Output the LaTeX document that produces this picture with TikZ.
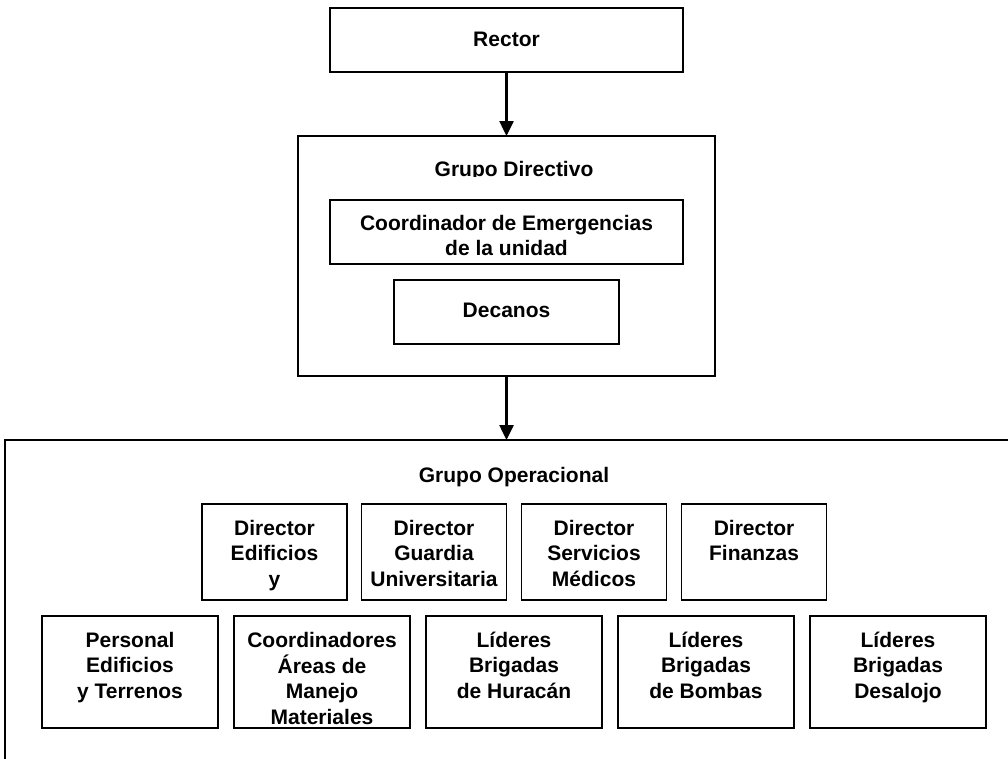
\documentclass[tikz,border=0pt]{standalone}
\usepackage{fontspec}
\setmainfont{Liberation Sans}
\usetikzlibrary{arrows.meta}
\newcommand\mlines[1]{\begin{tabular}[t]{@{}c@{}}#1\end{tabular}}
\begin{document}
\begin{tikzpicture}[x=1pt,y=-1pt,
  box/.style n args={2}{draw=black, line width=1.8pt, inner sep=0pt, outer sep=0pt, minimum width=#1, minimum height=#2},
  lbl/.style={font=\fontsize{21}{25.5}\selectfont\bfseries, inner sep=0pt, outer sep=0pt, anchor=base},
  arr/.style={line width=2.5pt, -{Triangle[width=14pt,length=15pt]}}]
\useasboundingbox (0,0) rectangle (1008,758);
\clip (0,0) rectangle (1008,758);

% top level
\node[box={353pt}{64pt}] (rector) at (506.5,40) {};
\node[lbl] (trector) at (506.5,46) {Rector};

% Grupo Directivo
\node[box={417pt}{240pt}] (gd) at (506.5,256) {};
\begin{scope}
  \clip (300,140) rectangle (713,176.8);
  \node[lbl] (tgd) at (514,176.5) {Grupo Directivo};
\end{scope}
\node[box={353pt}{64pt}] (coord) at (506.5,232) {};
\node[lbl] (tcoord) at (506.5,230) {\mlines{Coordinador de Emergencias\\de la unidad}};
\node[box={225pt}{64pt}] (dec) at (506.5,312) {};
\node[lbl] (tdec) at (506.5,317) {Decanos};

% Grupo Operacional
\node[box={1015pt}{340pt}, anchor=north west] (go) at (5,440) {};
\node[lbl] (tgo) at (514,482) {Grupo Operacional};

% row 1
\node[box={145pt}{96pt}] (d1) at (274.5,552) {};
\node[box={145pt}{96pt}] (d2) at (434,552) {};
\node[box={145pt}{96pt}] (d3) at (594,552) {};
\node[box={145pt}{96pt}] (d4) at (754,552) {};
\node[lbl] (td1) at (274.5,535) {\mlines{Director\\Edificios\\y}};
\node[lbl] (td2) at (434,535) {\mlines{Director\\Guardia\\Universitaria}};
\node[lbl] (td3) at (594,535) {\mlines{Director\\Servicios\\Médicos}};
\node[lbl] (td4) at (754,535) {\mlines{Director\\Finanzas}};

% row 2
\node[box={176pt}{112pt}] (p1) at (130,672) {};
\node[box={176pt}{112pt}] (p2) at (322,672) {};
\node[box={176pt}{112pt}] (p3) at (514,672) {};
\node[box={176pt}{112pt}] (p4) at (706,672) {};
\node[box={176pt}{112pt}] (p5) at (898,672) {};
\node[lbl] (tp1) at (130,647) {\mlines{Personal\\Edificios\\y Terrenos}};
\node[lbl] (tp2) at (322,647) {\mlines{Coordinadores\\Áreas de\\Manejo\\Materiales}};
\node[lbl] (tp3) at (514,647) {\mlines{Líderes\\Brigadas\\de Huracán}};
\node[lbl] (tp4) at (706,647) {\mlines{Líderes\\Brigadas\\de Bombas}};
\node[lbl] (tp5) at (898,647) {\mlines{Líderes\\Brigadas\\Desalojo}};

% connectors
\draw[arr] (rector.south) -- (gd.north);
\draw[arr] (gd.south) -- (gd.south |- go.north);
\end{tikzpicture}
\end{document}
